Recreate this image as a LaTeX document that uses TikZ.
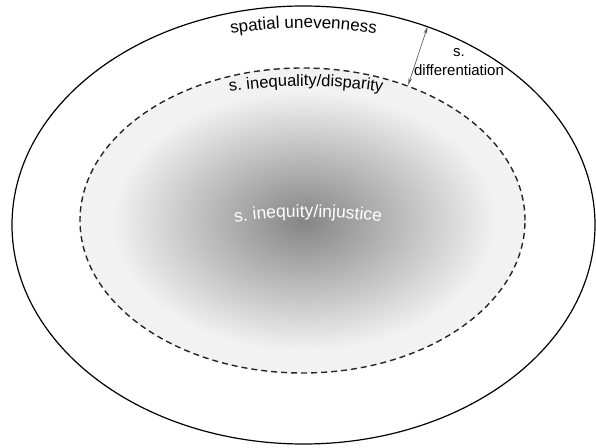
\documentclass[tikz,border=0pt]{standalone}
\usepackage{fontspec}
\setmainfont{Liberation Sans}
\usetikzlibrary{shapes.geometric,decorations.text,arrows.meta}

\definecolor{innerbg}{HTML}{F2F2F2}
\definecolor{core}{HTML}{858585}

\begin{document}
\begin{tikzpicture}[x=1pt,y=1pt,
	ring/.style={ellipse,draw,inner sep=0pt,line width=1.2pt},
	ringlabel/.style={decorate,decoration={text along path,text align=center,text color=#1}},
	gap/.style={{Stealth[length=7pt,width=3.5pt]}-{Stealth[length=7pt,width=3.5pt]},black!65,line width=0.7pt,shorten <=0.6pt,shorten >=0.6pt}]
	
	\def\ocx{303.5}    
	\def\ocy{222}      
	\def\icx{302.5}    
	\def\icy{226.5}    
	
	\useasboundingbox (0,0) rectangle (596,447);
	
	% shaded core inside the dashed ring
	\begin{scope}
		\clip (\icx,\icy) ellipse [x radius=222.5,y radius=152.5];
		\fill[innerbg] (\icx,\icy) ellipse [x radius=222.5,y radius=152.5];
		\shade[inner color=core,outer color=innerbg] (304,226) ellipse [x radius=192,y radius=130];
	\end{scope}
	
	\node[ring,minimum width=583pt,minimum height=438pt] (uneven) at (\ocx,\ocy) {};
	\node[ring,draw=black!85,dash pattern=on 6pt off 4pt,line width=1.4pt,
		minimum width=445pt,minimum height=305pt] (disparity) at (\icx,\icy) {};
	
	\path[ringlabel=black,decoration={text={|\fontsize{17}{17}\selectfont|spatial unevenness}}]
		({\ocx+300*cos(120)},{\ocy+197*sin(120)}) arc [start angle=120,end angle=60,x radius=300,y radius=197];
	\path[ringlabel=black,decoration={text={|\fontsize{16.5}{16.5}\selectfont|s. inequality/disparity}}]
		({306+260*cos(115)},{\icy+134.5*sin(115)}) arc [start angle=115,end angle=65,x radius=260,y radius=134.5];
	\path[ringlabel=white,decoration={text={|\fontsize{17.5}{17.5}\selectfont|s. inequity/injustice}}]
		({308+230*cos(115)},{130+100*sin(115)}) arc [start angle=115,end angle=65,x radius=230,y radius=100];
	
	\node[align=center,font=\fontsize{15}{19}\selectfont] (diff) at (459,384.5) {s.\\differentiation};
	
	\draw[gap] (uneven.58) -- (disparity.52);
\end{tikzpicture}
\end{document}
